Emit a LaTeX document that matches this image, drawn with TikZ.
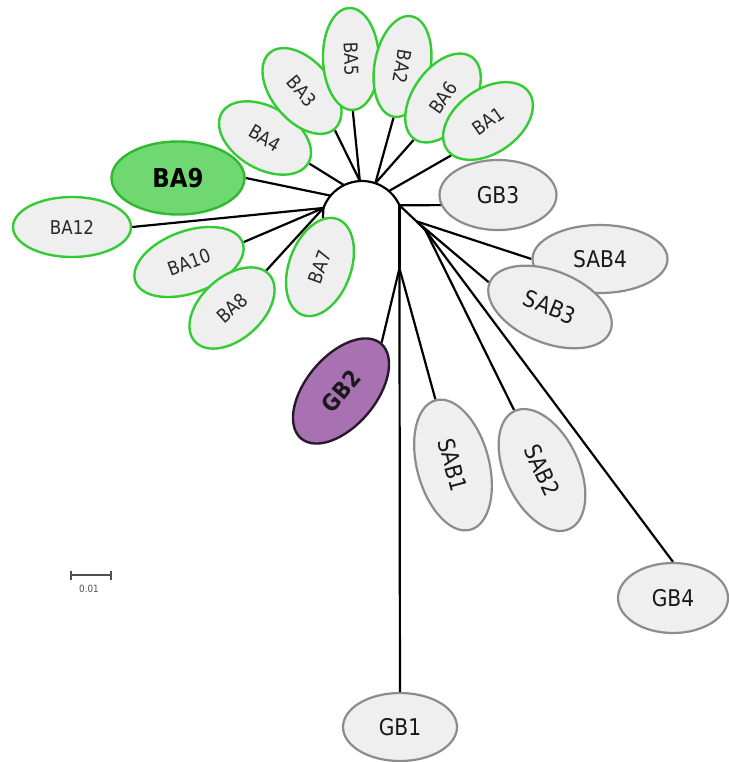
\documentclass[tikz,border=0pt]{standalone}
\usepackage{fontspec}
\setmainfont{DejaVu Sans}[FakeStretch=0.88]
\usetikzlibrary{shapes.geometric,calc,backgrounds}
\definecolor{bagreen}{RGB}{52,204,52}
\definecolor{bafill}{RGB}{112,216,112}
\definecolor{badraw}{RGB}{48,185,48}
\definecolor{leafgray}{RGB}{239,239,239}
\definecolor{gbborder}{RGB}{140,140,140}
\definecolor{gbtext}{RGB}{25,25,25}
\definecolor{batext}{RGB}{40,40,40}
\definecolor{gbpurple}{RGB}{168,114,178}
\definecolor{gbpdraw}{RGB}{40,25,45}
\definecolor{scalegray}{RGB}{80,80,80}
\begin{document}
\begin{tikzpicture}[x=1pt,y=1pt,
  leaf/.style={ellipse, draw, inner sep=0pt, line width=2.4pt},
  baleaf/.style={leaf, draw=bagreen, fill=leafgray, text=batext, font=\fontsize{19}{19}\selectfont},
  gbleaf/.style={leaf, line width=2.2pt, draw=gbborder, fill=leafgray, text=gbtext, font=\fontsize{23}{23}\selectfont},
  branch/.style={line width=2.2pt, black},
  sz/.style 2 args={minimum width=#1pt, minimum height=#2pt}]
\useasboundingbox (0,0) rectangle (728,-762);

% BA cluster (green)
\node[baleaf, sz={100}{62}, rotate=-30] (BA4) at (265,-138) {BA4};
\node[baleaf, sz={100}{60}, rotate=-50] (BA3) at (302,-91) {BA3};
\node[baleaf, sz={102}{56}, rotate=-88] (BA5) at (351,-59) {BA5};
\node[baleaf, sz={102}{56}, rotate=-100] (BA2) at (402.5,-66.5) {BA2};
\node[baleaf, sz={100}{60}, rotate=55] (BA6) at (443,-98) {BA6};
\node[baleaf, sz={100}{64}, rotate=35] (BA1) at (488,-121) {BA1};
\node[leaf, draw=badraw, fill=bafill, text=black, sz={133}{73},
      font=\fontsize{26}{26}\selectfont\bfseries] (BA9) at (178,-178) {BA9};
\node[baleaf, sz={118}{60}] (BA12) at (72,-227) {BA12};
\node[baleaf, sz={114}{62}, rotate=20] (BA10) at (189,-262) {BA10};
\node[baleaf, sz={100}{62}, rotate=42] (BA8) at (232,-308) {BA8};
\node[baleaf, sz={102}{62}, rotate=70] (BA7) at (320,-267) {BA7};

% gray / purple leaves
\node[gbleaf, sz={117}{70}] (GB3) at (498,-195) {GB3};
\node[gbleaf, sz={135}{68}] (SAB4) at (600,-259) {SAB4};
\node[gbleaf, sz={130}{72}, rotate=-22] (SAB3) at (550,-307) {SAB3};
\node[leaf, draw=gbpdraw, fill=gbpurple, text=gbtext, sz={124}{70}, rotate=50,
      font=\fontsize{23}{23}\selectfont\bfseries] (GB2) at (341,-391) {GB2};
\node[gbleaf, sz={134}{72}, rotate=-75] (SAB1) at (453,-465) {SAB1};
\node[gbleaf, sz={130}{74}, rotate=-65] (SAB2) at (542,-470) {SAB2};
\node[gbleaf, sz={110}{70}] (GB4) at (673,-598) {GB4};
\node[gbleaf, sz={114}{68}] (GB1) at (400,-727) {GB1};

% scale bar
\coordinate (s1) at (71,-575);
\coordinate (s2) at (111,-575);
\draw[scalegray, line width=1.6pt] (s1) -- (s2);
\draw[scalegray, line width=1.6pt] ($(s1)+(0,4.5)$) -- ($(s1)+(0,-4.5)$);
\draw[scalegray, line width=1.6pt] ($(s2)+(0,4.5)$) -- ($(s2)+(0,-4.5)$);
\node[text=scalegray, font=\fontsize{10}{10}\selectfont, inner sep=0pt] (sl) at (89,-589) {0.01};

\begin{scope}[on background layer]
\fill[white] (0,0) rectangle (728,-762);
\coordinate (c) at (362,-222);
\coordinate (jL) at ($(c)+(160:41)$);
\coordinate (j9) at ($(c)+(140:41)$);
\coordinate (j4) at ($(c)+(116:41)$);
\coordinate (j35) at ($(c)+(93:41)$);
\coordinate (j26) at ($(c)+(71:41)$);
\coordinate (j1) at ($(c)+(49:41)$);
\coordinate (jR) at ($(c)+(24:41)$);
\coordinate (jB) at ($(jR)+(0,-63)$);
\coordinate (jS) at ($(jR)+(17,-16)$);
\coordinate (jT) at ($(jR)+(26,-25)$);
\draw[branch] (jL) arc[start angle=160, end angle=24, radius=41];
\draw[branch] (jR) -- (jB);
\draw[branch] (jR) -- (jS) -- (jT);
\draw[branch] (jL) -- (BA12.east);
\draw[branch] (jL) -- (BA10.east);
\draw[branch] (jL) -- (BA8);
\draw[branch] (jL) -- (BA7);
\draw[branch] (j9) -- (BA9.east);
\draw[branch] (j4) -- (BA4.east);
\draw[branch] (j35) -- (BA3.east);
\draw[branch] (j35) -- (BA5.east);
\draw[branch] (j26) -- (BA2.east);
\draw[branch] (j26) -- (BA6.west);
\draw[branch] (j1) -- (BA1.188);
\draw[branch] (jR) -- (GB3.190);
\draw[branch] (jS) -- (SAB4.west);
\draw[branch] (jS) -- (SAB3.west);
\draw[branch] (jT) -- (SAB2.west);
\draw[branch] (jT) -- (GB4.north);
\draw[branch] (jB) -- (GB2.east);
\draw[branch] (jB) -- (SAB1.west);
\draw[branch] (jB) -- (GB1);
\end{scope}
\end{tikzpicture}
\end{document}
